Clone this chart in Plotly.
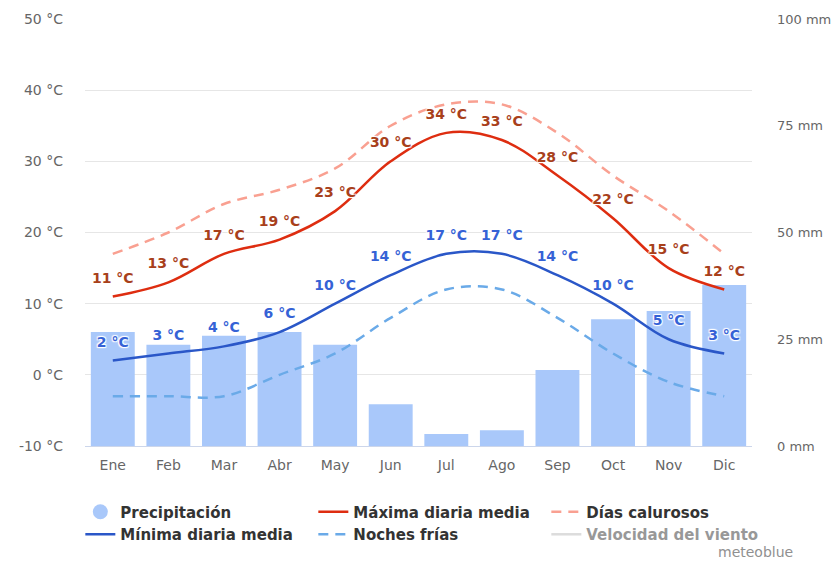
import plotly.graph_objects as go

months = ["Ene", "Feb", "Mar", "Abr", "May", "Jun", "Jul", "Ago", "Sep", "Oct", "Nov", "Dic"]
precip_mm = [26.7, 23.7, 25.8, 26.7, 23.7, 9.8, 2.8, 3.7, 17.8, 29.7, 31.6, 37.7]
max_temp = [11, 13, 17, 19, 23, 30, 34, 33, 28, 22, 15, 12]
min_temp = [2, 3, 4, 6, 10, 14, 17, 17, 14, 10, 5, 3]
hot_days = [17, 20, 24, 26, 29, 35, 38, 38, 34, 28, 23, 17]
cold_nights = [-3, -3, -3, 0, 3, 8, 12, 12, 8, 3, -1, -3]

temp_ticks = [-10, 0, 10, 20, 30, 40, 50]
mm_ticks = [0, 25, 50, 75, 100]

BAR = "#a9c8fa"
RED = "#de2d10"
RED_LBL = "#a8401b"
BLUE = "#2a57c8"
BLUE_LBL = "#3562d6"
PINK = "#f9a091"
LBLUE = "#6aaae8"
FONT = "DejaVu Sans"
halo = "1px 1px 1px #fff, -1px -1px 1px #fff, 1px -1px 1px #fff, -1px 1px 1px #fff"
invisible_marker = dict(size=15, color="rgba(0,0,0,0)")

fig = go.Figure()

fig.add_trace(go.Bar(x=months, y=precip_mm, marker=dict(color=BAR, line=dict(width=0)),
                     width=0.79, showlegend=False, yaxis="y", hoverinfo="skip"))

fig.add_trace(go.Scatter(x=[None], y=[None], mode="markers", name="Precipitación", legendrank=1,
                         marker=dict(symbol="circle", size=15, color=BAR), yaxis="y2"))

fig.add_trace(go.Scatter(x=months, y=hot_days, name="Días calurosos", mode="lines", legendrank=3,
                         line=dict(color=PINK, width=2.5, dash="10px,7px", shape="spline", smoothing=1.0),
                         yaxis="y2"))

fig.add_trace(go.Scatter(x=months, y=cold_nights, name="Noches frías", mode="lines", legendrank=5,
                         line=dict(color=LBLUE, width=2.5, dash="10px,7px", shape="spline", smoothing=1.0),
                         yaxis="y2"))

fig.add_trace(go.Scatter(x=months, y=max_temp, name="Máxima diaria media", mode="lines+markers+text",
                         legendrank=2, marker=invisible_marker,
                         line=dict(color=RED, width=2.5, shape="spline", smoothing=1.0),
                         text=[f"{v} °C" for v in max_temp], textposition="top center",
                         textfont=dict(family=FONT, size=14, color=RED_LBL, weight="bold", shadow=halo),
                         yaxis="y2", cliponaxis=False))

fig.add_trace(go.Scatter(x=months, y=min_temp, name="Mínima diaria media", mode="lines+markers+text",
                         legendrank=4, marker=invisible_marker,
                         line=dict(color=BLUE, width=2.5, shape="spline", smoothing=1.0),
                         text=[f"{v} °C" for v in min_temp], textposition="top center",
                         textfont=dict(family=FONT, size=14, color=BLUE_LBL, weight="bold", shadow=halo),
                         yaxis="y2", cliponaxis=False))

fig.add_trace(go.Scatter(x=[None], y=[None], name="Velocidad del viento", mode="lines", legendrank=6,
                         line=dict(color="#bbbbbb", width=2.5), yaxis="y2", visible="legendonly"))

# page body has an 8px default margin; size the figure so the plot lands where the reference has it
fig.update_layout(
    width=831, height=553,
    margin=dict(l=77, r=87, t=11, b=115, autoexpand=False),
    paper_bgcolor="white", plot_bgcolor="white",
    font=dict(family=FONT, size=14, color="#666666"),
    xaxis=dict(type="category", categoryorder="array", categoryarray=months,
               showgrid=False, showline=True, linecolor="#ccd6eb", linewidth=1,
               ticks="", tickfont=dict(size=14, color="#666666"), ticklabelstandoff=6,
               range=[-0.5, 11.5], fixedrange=True, automargin=False),
    yaxis=dict(side="right", range=[0, 100], tickvals=mm_ticks,
               ticktext=[f"{v} mm" for v in mm_ticks], showgrid=False, zeroline=False,
               tickfont=dict(size=13, color="#666666"), ticklabelstandoff=24, ticks="",
               automargin=False),
    yaxis2=dict(side="left", overlaying="y", range=[-10, 50], tickvals=temp_ticks,
                ticktext=[f"{v} °C" for v in temp_ticks], showgrid=True, gridcolor="#e6e6e6",
                gridwidth=1, zeroline=False, tickfont=dict(size=14, color="#666666"),
                ticklabelstandoff=21, ticks="", automargin=False),
    legend=dict(orientation="h", x=-0.007, xanchor="left", y=-0.116, yanchor="top",
                entrywidth=188, entrywidthmode="pixels", itemwidth=30,
                font=dict(family=FONT, size=15, color="#333333", weight="bold"),
                traceorder="normal", tracegroupgap=0, bgcolor="rgba(0,0,0,0)"),
    showlegend=True,
)

fig.add_annotation(text="meteoblue", xref="paper", yref="paper", x=1.065, y=-0.248,
                   xanchor="right", yanchor="middle", showarrow=False,
                   font=dict(family=FONT, size=14, color="#909090"))

fig.write_html("out.html")
